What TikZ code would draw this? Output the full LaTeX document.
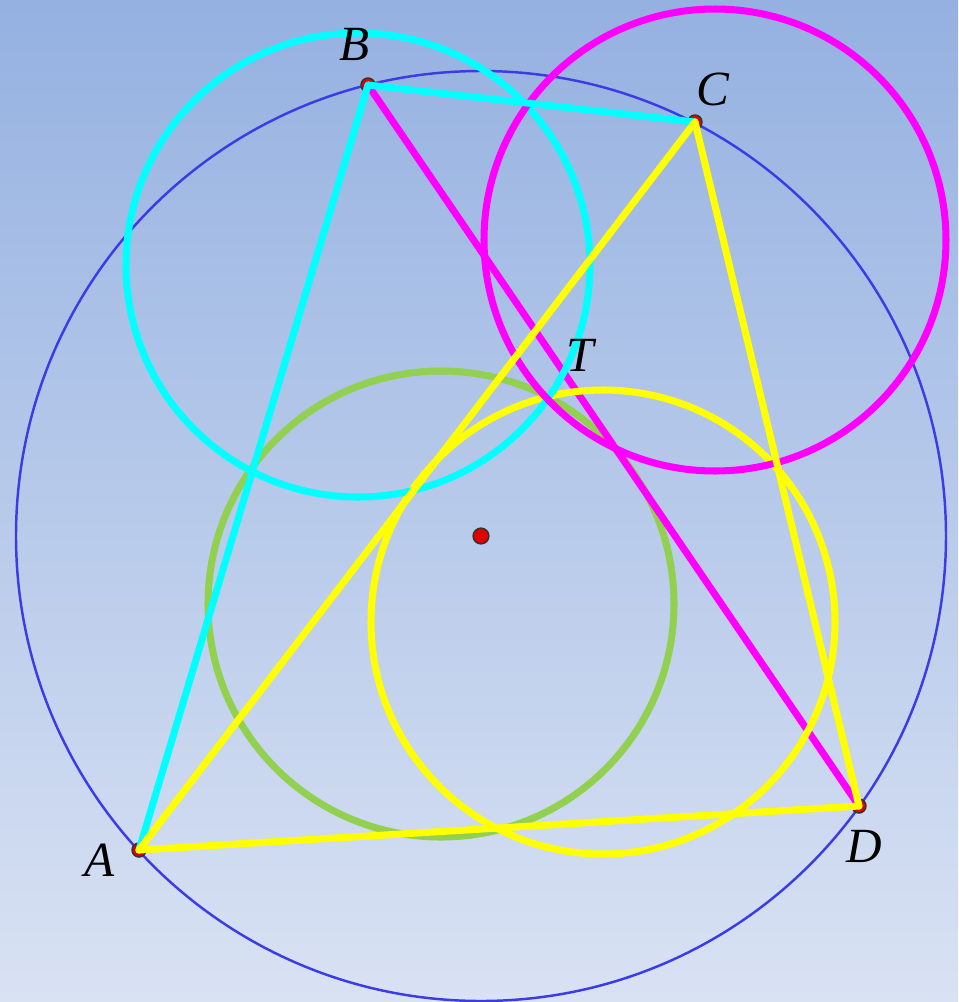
\documentclass[tikz,border=0pt]{standalone}
\usepackage{fontspec}
\setmainfont{Liberation Serif}
\begin{document}
\begin{tikzpicture}[x=0.02cm,y=-0.02cm]
\definecolor{bgtop}{HTML}{95B1E1}
\definecolor{bgbot}{HTML}{D9E2F3}
\definecolor{cyanc}{HTML}{00FFFF}
\definecolor{magc}{HTML}{FF00FF}
\definecolor{yelc}{HTML}{FFFF00}
\definecolor{grnc}{HTML}{92D050}
\definecolor{bluec}{HTML}{3C3CE6}
\definecolor{ptred}{HTML}{E00000}
\tikzset{
  ring/.style={line width=4pt},
  seg/.style={line width=4pt, line cap=round},
  lbl/.style={font=\itshape\fontsize{28}{30}\selectfont, inner sep=0pt},
  pt/.style={circle, fill=ptred, draw=black!80, line width=0.8pt, minimum size=9pt, inner sep=0pt}
}
\shade[top color=bgtop, bottom color=bgbot] (0,0) rectangle (958,1002);
\useasboundingbox (0,0) rectangle (958,1002);
\coordinate (A) at (139,850);
\coordinate (B) at (368,85);
\coordinate (C) at (695,122);
\coordinate (D) at (859,806);
\coordinate (O) at (481,536);
% big circle
\draw[bluec, line width=1.4pt] (O) circle[radius=465];
% vertex dots
\foreach \p in {A,B,C,D} \node[pt, minimum size=8pt] at (\p) {};
\node[pt] (o) at (O) {};
% circles
\draw[ring, grnc] (441,604) circle[radius=233];
\draw[seg, magc] (B) -- (D);
\draw[ring, yelc] (603,622) circle[radius=232];
\draw[ring, cyanc] (358,265) circle[radius=232];
\draw[ring, magc] (715,240) circle[radius=231];
% sides
\draw[seg, cyanc] (A) -- (B);
\draw[seg, cyanc] (B) -- (C);
\draw[seg, cyanc, line width=2pt, transform canvas={shift={(-0.035cm,-0.03cm)}}] (A) -- (C);
\draw[seg, yelc] (A) -- (C);
\draw[seg, yelc] (C) -- (D);
\draw[seg, yelc] (A) -- (D);
% labels
\node[lbl] (lA) at (100,860) {A};
\node[lbl] (lB) at (355,44) {B};
\node[lbl] (lC) at (713,89) {C};
\node[lbl] (lD) at (864,846) {D};
\node[lbl] (lT) at (580,355) {T};
\end{tikzpicture}
\end{document}
